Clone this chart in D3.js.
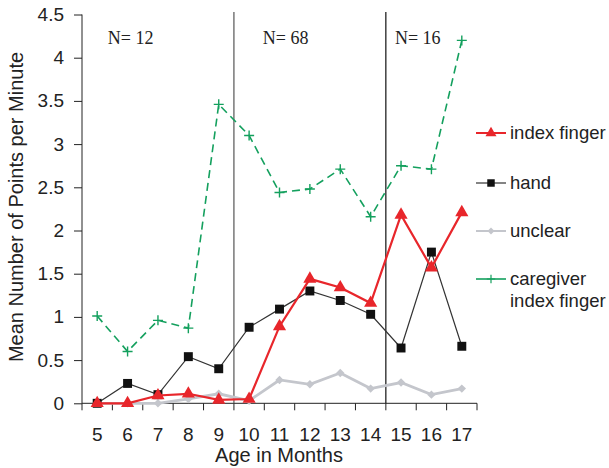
<!DOCTYPE html>
<html>
<head>
<meta charset="utf-8">
<script src="https://cdn.jsdelivr.net/npm/d3@7"></script>
<style>
body { margin: 0; background: #fff; }
text { font-family: "Liberation Sans", Arial, sans-serif; fill: #222; }
</style>
</head>
<body>
<div id="chart"></div>
<script>
// ages on the x axis
var ages = [5, 6, 7, 8, 9, 10, 11, 12, 13, 14, 15, 16, 17];
var yTicks = [0, 0.5, 1, 1.5, 2, 2.5, 3, 3.5, 4, 4.5];
// series
var indexFinger = [0, 0, 0.09, 0.11, 0.04, 0.05, 0.89, 1.44, 1.34, 1.16, 2.18, 1.57, 2.21];
var hand = [0, 0.23, 0.10, 0.54, 0.40, 0.88, 1.09, 1.30, 1.19, 1.03, 0.64, 1.75, 0.66];
var unclear = [0, 0, 0, 0.05, 0.11, 0.03, 0.27, 0.22, 0.35, 0.17, 0.24, 0.10, 0.17];
var caregiver = [1.01, 0.60, 0.96, 0.87, 3.46, 3.10, 2.44, 2.48, 2.71, 2.16, 2.75, 2.71, 4.20];
// period dividers (between ages) and sample sizes
var dividers = [9.5, 14.5];
var groupLabels = [{ at: 6.1, text: "N= 12" }, { at: 11.2, text: "N= 68" }, { at: 15.55, text: "N= 16" }];

const Width = 609, Height = 468;
const pLeft = 82, pRight = 477, pTop = 14.5, pBottom = 403.3;

var svg = d3.select("#chart").append("svg").attr("width", Width).attr("height", Height);

var xScale = d3.scaleBand().domain(ages).range([pLeft, pRight]);
var yScale = d3.scaleLinear().domain([0, 4.5]).range([pBottom, pTop]);
var xc = d => xScale(d) + xScale.bandwidth() / 2;
// continuous position along the age axis (for in-between things)
var xAge = d3.scaleLinear().domain([ages[0], ages[ages.length - 1]]).range([xc(ages[0]), xc(ages[ages.length - 1])]);

// axes
var gx = svg.append("g").attr("transform", "translate(0," + pBottom + ")");
gx.call(d3.axisBottom(xScale).tickSize(0).tickPadding(24));
gx.select(".domain").attr("stroke", "#222").attr("d", "M" + pLeft + ",0H" + pRight);
gx.selectAll(".tick text").attr("font-size", 19).attr("font-family", "Liberation Sans, Arial").attr("fill", "#222");
// tick marks on band edges
gx.selectAll(".edge").data(ages.concat([null])).enter().append("line")
    .attr("x1", (d, i) => pLeft + i * xScale.bandwidth())
    .attr("x2", (d, i) => pLeft + i * xScale.bandwidth())
    .attr("y1", 0).attr("y2", 7).attr("stroke", "#222");

var gy = svg.append("g").attr("transform", "translate(" + pLeft + ",0)");
gy.call(d3.axisLeft(yScale).tickValues(yTicks).tickFormat(d => d).tickSize(8).tickPadding(10));
gy.select(".domain").attr("stroke", "#222").attr("d", "M0," + pTop + "V" + pBottom);
gy.selectAll(".tick line").attr("stroke", "#222");
gy.selectAll(".tick text").attr("font-size", 19).attr("font-family", "Liberation Sans, Arial").attr("fill", "#222");

// axis titles
svg.append("text").attr("x", 279).attr("y", 462).attr("text-anchor", "middle")
    .attr("font-size", 20).text("Age in Months");
svg.append("text").attr("transform", "translate(23,207) rotate(-90)").attr("text-anchor", "middle")
    .attr("font-size", 20).text("Mean Number of Points per Minute");

// dividers
svg.selectAll(".divider").data(dividers).enter().append("line")
    .attr("x1", d => xAge(d)).attr("x2", d => xAge(d))
    .attr("y1", 12).attr("y2", pBottom)
    .attr("stroke", (d, i) => i === 0 ? "#555" : "#111").attr("stroke-width", 1.2);

svg.selectAll(".nlab").data(groupLabels).enter().append("text")
    .attr("x", d => xAge(d.at)).attr("y", 44).attr("text-anchor", "middle")
    .style("font-family", "'Liberation Serif', 'Times New Roman', serif")
    .attr("font-size", 18).text(d => d.text);

var line = d3.line().x((d, i) => xc(ages[i])).y(d => yScale(d));

// thin plus used for the caregiver series
var plus = { draw: function (ctx, size) { var r = Math.sqrt(size) / 2; ctx.moveTo(-r, 0); ctx.lineTo(r, 0); ctx.moveTo(0, -r); ctx.lineTo(0, r); } };

var series = [
    { name: "caregiver", data: caregiver, color: "#14a05e", width: 1.6, dash: "8,5", symbol: plus, size: 100, label: ["caregiver", "index finger"] },
    { name: "unclear", data: unclear, color: "#c4c6cc", width: 2.8, dash: null, symbol: d3.symbolDiamond2, size: 45, label: ["unclear"] },
    { name: "hand", data: hand, color: "#333", width: 1.2, dash: null, symbol: d3.symbolSquare, size: 80, label: ["hand"] },
    { name: "index", data: indexFinger, color: "#e8262b", width: 2.2, dash: null, symbol: d3.symbolTriangle, size: 75, label: ["index finger"] }
];

series.forEach(s => {
    svg.append("path").attr("d", line(s.data)).attr("fill", "none")
        .attr("stroke", s.color).attr("stroke-width", s.width)
        .attr("stroke-dasharray", s.dash);
    var sym = d3.symbol().type(s.symbol).size(s.size);
    svg.selectAll(".m-" + s.name).data(s.data).enter().append("path")
        .attr("transform", (d, i) => "translate(" + xc(ages[i]) + "," + yScale(d) + ")")
        .attr("d", sym)
        .attr("fill", s.name === "caregiver" ? "none" : (s.name === "hand" ? "#111" : s.color))
        .attr("stroke", s.name === "caregiver" ? s.color : "none")
        .attr("stroke-width", 1.4);
});

// legend
var legendY = { index: 133, hand: 183, unclear: 231, caregiver: 279 };
series.forEach(s => {
    var y = legendY[s.name];
    var g = svg.append("g").attr("transform", "translate(476," + y + ")");
    g.append("line").attr("x1", 0).attr("x2", 30).attr("y1", 0).attr("y2", 0)
        .attr("stroke", s.color).attr("stroke-width", Math.min(s.width, 2));
    g.append("path").attr("transform", "translate(15,0)")
        .attr("d", d3.symbol().type(s.symbol).size(s.size * 0.7))
        .attr("fill", s.name === "caregiver" ? "none" : (s.name === "hand" ? "#111" : s.color))
        .attr("stroke", s.name === "caregiver" ? s.color : "none")
        .attr("stroke-width", 1.2);
    s.label.forEach((t, k) => {
        g.append("text").attr("x", 34).attr("y", 6 + k * 22).attr("font-size", 18.5).text(t);
    });
});
</script>
</body>
</html>
